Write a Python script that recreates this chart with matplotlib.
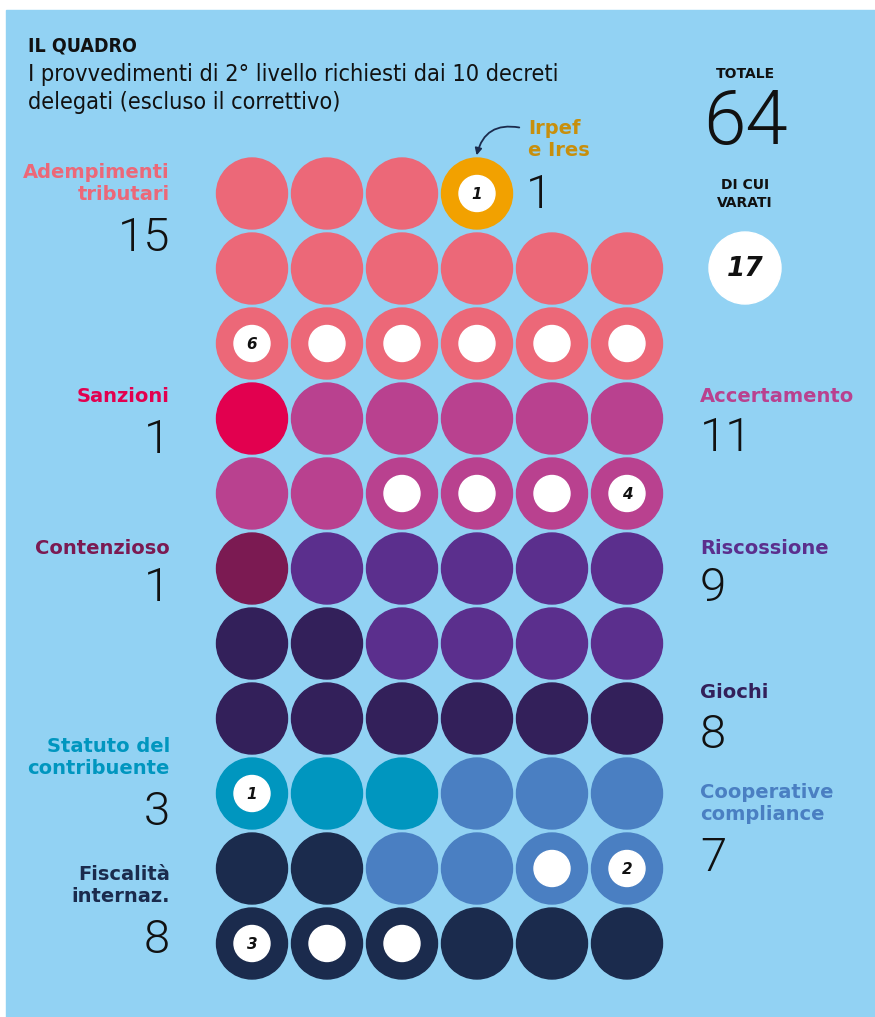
import matplotlib
matplotlib.use("Agg")
from matplotlib import pyplot as plt
from matplotlib.patches import Circle, Rectangle

# categorie: nome, totale, varati, colore
categorie = ["Adempimenti tributari", "Irpef e Ires", "Sanzioni", "Accertamento",
             "Contenzioso", "Riscossione", "Giochi", "Statuto del contribuente",
             "Cooperative compliance", "Fiscalità internaz."]
codici = ["A", "I", "S", "E", "C", "R", "G", "T", "P", "F"]
totali = [15, 1, 1, 11, 1, 9, 8, 3, 7, 8]
varati = [6, 1, 0, 4, 0, 0, 0, 1, 2, 3]
colori = ["#ec6878", "#f2a100", "#e2004f", "#b9418f", "#7b1a52",
          "#5b2f8d", "#33205a", "#0096bf", "#4a7fc2", "#1b2b4d"]

# griglia: maiuscolo = non varato, minuscolo = varato, * = numero dei varati
griglia = [
    ["A", "A", "A", "i*"],
    ["A", "A", "A", "A", "A", "A"],
    ["a*", "a", "a", "a", "a", "a"],
    ["S", "E", "E", "E", "E", "E"],
    ["E", "E", "e", "e", "e", "e*"],
    ["C", "R", "R", "R", "R", "R"],
    ["G", "G", "R", "R", "R", "R"],
    ["G", "G", "G", "G", "G", "G"],
    ["t*", "T", "T", "P", "P", "P"],
    ["F", "F", "P", "P", "p", "p*"],
    ["f*", "f", "f", "F", "F", "F"],
]

totale = sum(totali)
totale_varati = sum(varati)

bg = "#92d2f3"
W, H = 875, 1017
fig = plt.figure(figsize=(W / 100, H / 100), dpi=100)
ax = fig.add_axes([0, 0, 1, 1])
ax.set_xlim(0, W)
ax.set_ylim(H, 0)
ax.axis("off")
ax.add_patch(Rectangle((6, 10), W - 6, H - 10, color=bg, zorder=0))

x0, y0, passo, r = 252, 193.5, 75, 35.5
for j, riga in enumerate(griglia):
    for i, tok in enumerate(riga):
        k = codici.index(tok[0].upper())
        cx, cy = x0 + i * passo, y0 + j * passo
        ax.add_patch(Circle((cx, cy), r, color=colori[k], zorder=2))
        if tok[0].islower():
            ax.add_patch(Circle((cx, cy), 18, color="white", zorder=3))
        if tok.endswith("*"):
            ax.text(cx, cy + 1, str(varati[k]), ha="center", va="center", fontsize=11,
                    fontweight="bold", style="italic", color="#111111", zorder=4)

# titoli
cond = dict(family="DejaVu Sans", fontstretch="condensed", color="#111111", va="center")
ax.text(28, 46, "IL QUADRO", fontsize=14, fontweight="bold", **cond)
ax.text(28, 75, "I provvedimenti di 2° livello richiesti dai 10 decreti",
        fontsize=16.8, **cond)
ax.text(28, 102, "delegati (escluso il correttivo)", fontsize=16.8, **cond)

thin = dict(family=["Roboto", "DejaVu Sans"], fontweight=300, color="#111111")
ax.text(745, 74, "TOTALE", fontsize=10, fontweight="bold", ha="center", va="center",
        color="#111111")
ax.text(745, 123, str(totale), fontsize=55, ha="center", va="center", **thin)
ax.text(745, 194, "DI CUI\nVARATI", fontsize=10, fontweight="bold", ha="center",
        va="center", color="#111111", linespacing=1.3)
ax.add_patch(Circle((745, 268), 36, color="white", zorder=2))
ax.text(745, 269, str(totale_varati), fontsize=19, fontweight="bold", style="italic",
        ha="center", va="center", color="#111111", zorder=3)

# etichette a sinistra
sinistra = [("Adempimenti\ntributari", 0, 183, 238),
            ("Sanzioni", 2, 396, 440),
            ("Contenzioso", 4, 548, 588),
            ("Statuto del\ncontribuente", 7, 757, 812),
            ("Fiscalità\ninternaz.", 9, 885, 940)]
for testo, k, yl, yn in sinistra:
    ax.text(170, yl, testo, fontsize=14, fontweight="bold", color=colori[k],
            ha="right", va="center", linespacing=1.2)
    ax.text(170, yn, str(totali[k]), fontsize=34, ha="right", va="center", **thin)

# etichette a destra
destra = [("Accertamento", 3, 396, 438),
          ("Riscossione", 5, 548, 588),
          ("Giochi", 6, 693, 735),
          ("Cooperative\ncompliance", 8, 803, 858)]
for testo, k, yl, yn in destra:
    ax.text(700, yl, testo, fontsize=14, fontweight="bold", color=colori[k],
            ha="left", va="center", linespacing=1.2)
    ax.text(700, yn, str(totali[k]), fontsize=34, ha="left", va="center", **thin)

# Irpef e Ires
ax.text(528, 140, "Irpef\ne Ires", fontsize=14, fontweight="bold", color="#c88f0c",
        ha="left", va="center", linespacing=1.2)
ax.text(526, 195, str(totali[1]), fontsize=34, ha="left", va="center", **thin)
ax.annotate("", xy=(476, 158), xytext=(522, 128),
            arrowprops=dict(arrowstyle="-|>", color="#1b2b4d", lw=1.3,
                            connectionstyle="arc3,rad=0.5", mutation_scale=10))

fig.savefig("out.png", dpi=100)
